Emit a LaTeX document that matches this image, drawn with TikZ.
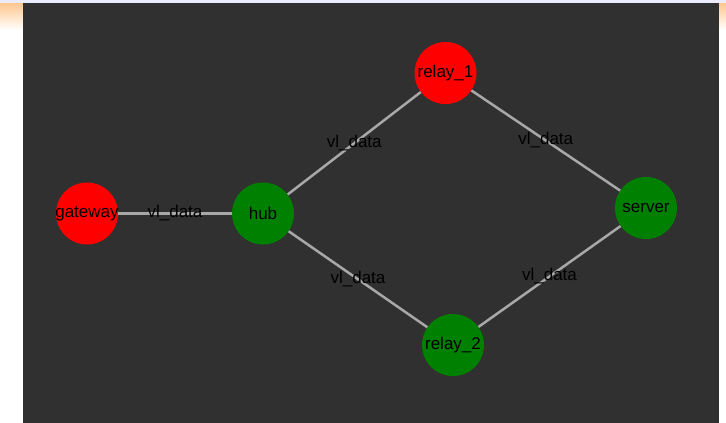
\documentclass[tikz,border=0pt]{standalone}
\usepackage{fontspec}
\setmainfont{Liberation Sans}
\usepackage{tikz}
\usetikzlibrary{arrows}

\definecolor{bgdark}{HTML}{303030}
\definecolor{edgegray}{HTML}{A8A8A8}
\definecolor{nodered}{HTML}{FF0000}
\definecolor{nodegreen}{HTML}{008000}

\tikzset{
  ball/.style={circle, minimum size=62pt, inner sep=-4pt, font=\fontsize{17}{17}\selectfont, text=black},
  redball/.style={ball, fill=nodered},
  greenball/.style={ball, fill=nodegreen},
  link/.style={draw=edgegray, line width=2.5pt},
  lbl/.style={midway, inner sep=0pt, font=\fontsize{17}{17}\selectfont, text=black}
}

\begin{document}
\begin{tikzpicture}[x=1pt, y=-1pt]
	\useasboundingbox (0,0) rectangle (726,423);
	\fill[white] (0,0) rectangle (726,423);
	\shade[top color=orange!45, bottom color=white] (0,2.5) rectangle (23,30);
	\shade[top color=orange!45, bottom color=white] (719,2.5) rectangle (726,30);
	\fill[blue!8] (0,0) rectangle (726,2.5);
	\fill[bgdark] (23,3) rectangle (719,423);

	% nodes
	\node[redball] (gateway) at (87,213.5) {gateway};
	\node[greenball] (hub) at (263,213.5) {hub};
	\node[redball] (relay1) at (445.5,73) {relay\_1};
	\node[greenball] (relay2) at (453,345) {relay\_2};
	\node[greenball] (server) at (646,208) {server};

	% links
	\draw[link] (gateway) -- (hub) node[lbl] {vl\_data};
	\draw[link] (hub) -- (relay1) node[lbl] {vl\_data};
	\draw[link] (relay1) -- (server) node[lbl] {vl\_data};
	\draw[link] (hub) -- (relay2) node[lbl] {vl\_data};
	\draw[link] (relay2) -- (server) node[lbl] {vl\_data};
\end{tikzpicture}
\end{document}
